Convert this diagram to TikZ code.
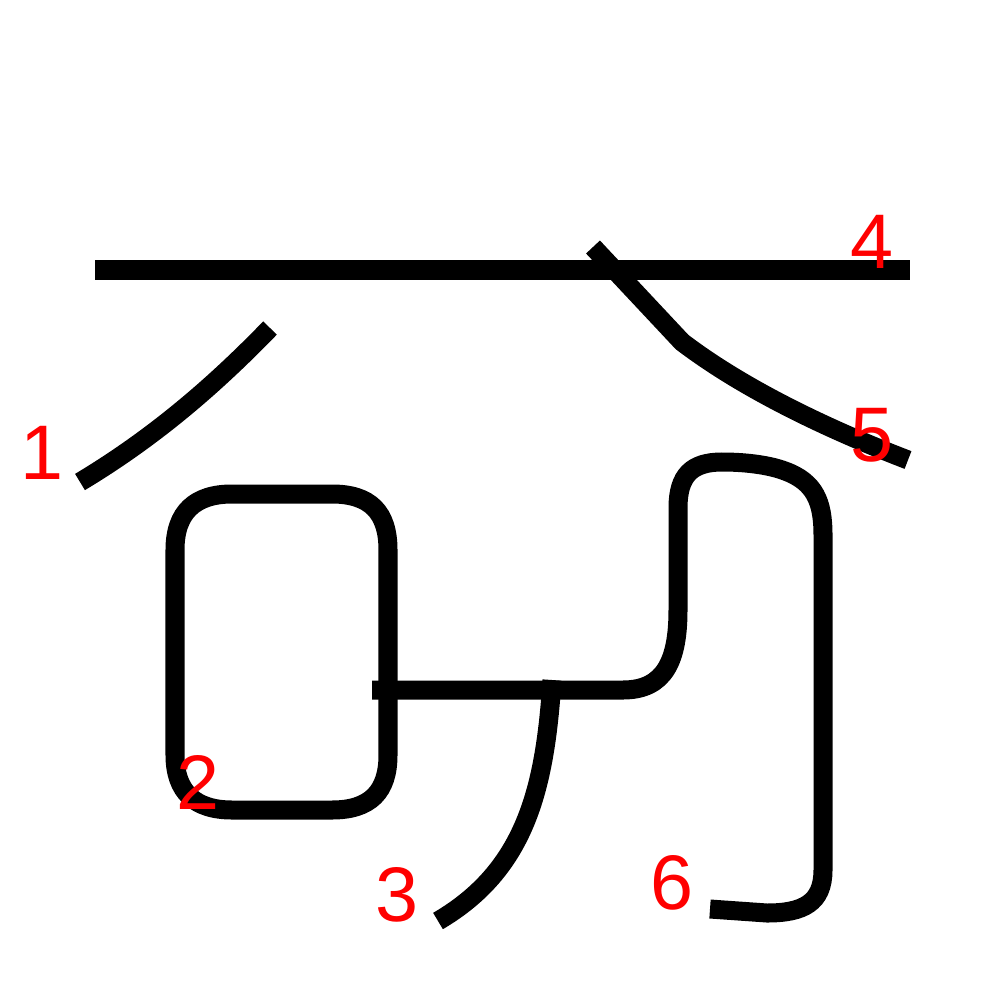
\documentclass[tikz,border=0pt]{standalone}
\usepackage{fontspec}
\newfontfamily\numfont{Liberation Sans}
\usetikzlibrary{positioning}

\begin{document}
\begin{tikzpicture}[x=0.01cm, y=-0.01cm,
    kanjistroke/.style={line width=0.19cm, black},
    strokenum/.style={text=red, inner sep=0pt, font=\numfont\fontsize{22}{26}\selectfont}]
    % Fix the page size
    \useasboundingbox (0, 0) rectangle (1000, 1000);

    % Stroke 1: left falling stroke
    \draw[kanjistroke] (270, 328) .. controls (210, 390) and (150, 440) .. (80, 482);

    % Stroke 2: the box
    \draw[kanjistroke] (175, 550) -- (175, 755)
        .. controls (175, 792) and (195, 810) .. (232, 810) -- (332, 810)
        .. controls (370, 810) and (388, 792) .. (388, 755) -- (388, 550)
        .. controls (388, 512) and (370, 494) .. (332, 494) -- (232, 494)
        .. controls (195, 494) and (175, 512) .. cycle;

    % Stroke 3: the hook under the bar
    \draw[kanjistroke] (552, 680) .. controls (545, 790) and (525, 870) .. (438, 921);

    % Stroke 4: the long bar
    \draw[kanjistroke] (95, 270) -- (910, 270);

    % Stroke 5: right falling stroke
    \draw[kanjistroke] (593, 247) -- (682, 342) .. controls (745, 390) and (830, 430) .. (908, 460);

    % Stroke 6: bar, up, over and down
    \draw[kanjistroke] (372, 690) -- (623, 690)
        .. controls (665, 690) and (678, 660) .. (678, 610) -- (678, 508)
        .. controls (678, 475) and (692, 462) .. (722, 462)
        .. controls (750, 462) and (772, 466) .. (785, 471)
        .. controls (815, 482) and (823, 502) .. (823, 535) -- (823, 870)
        .. controls (823, 903) and (803, 913) .. (767, 913) -- (710, 909);

    % Add the stroke numbers
    \node[strokenum] (num1) at (42, 453) {1};
    \node[strokenum] (num2) at (198, 782) {2};
    \node[strokenum] (num3) at (397, 895) {3};
    \node[strokenum] (num4) at (872, 242) {4};
    \node[strokenum] (num5) at (872, 435) {5};
    \node[strokenum] (num6) at (672, 883) {6};
\end{tikzpicture}
\end{document}
